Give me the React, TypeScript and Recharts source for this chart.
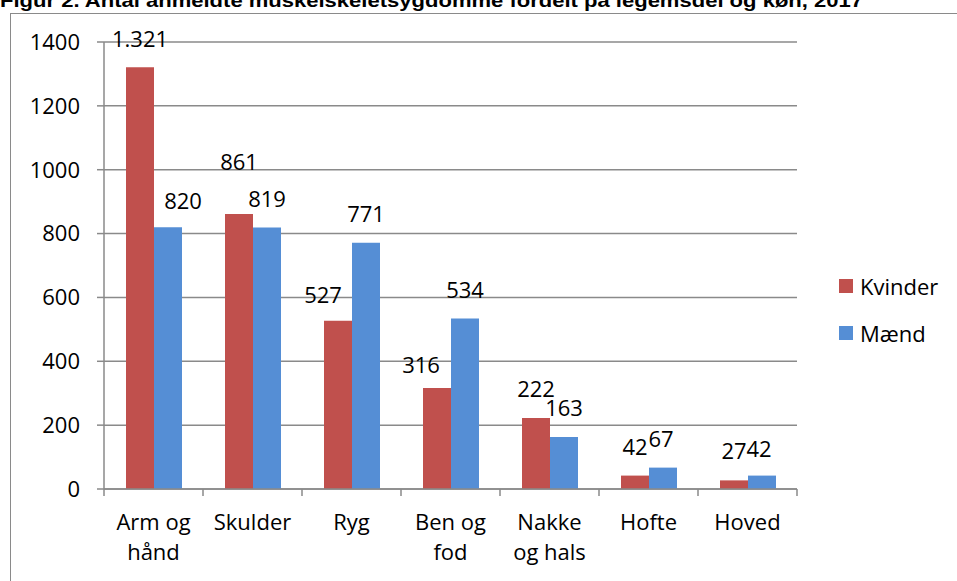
import { BarChart, Bar, XAxis, YAxis, CartesianGrid, LabelList } from "recharts"

const categories = ["Arm og\nhånd", "Skulder", "Ryg", "Ben og\nfod", "Nakke\nog hals", "Hofte", "Hoved"]
const kvinder = [1321, 861, 527, 316, 222, 42, 27]
const maend = [820, 819, 771, 534, 163, 67, 42]
const yTicks = [0, 200, 400, 600, 800, 1000, 1200, 1400]

const title = "Figur 2. Antal anmeldte muskelskeletsygdomme fordelt på legemsdel og køn, 2017"

// a few labels were dragged by hand in the original, [dx, dy]
const kvinderNudge = [[0, 1], [0, -23], [-15, 3], [-16, 6], [0, 0], [0, 0], [0, 0]]
const maendNudge = [[15, 3], [0, 0], [0, 0], [0, 0], [0, 0], [-2, 0], [-3, 2]]

const series = [
  { key: "kvinder", name: "Kvinder", color: "#C0504D", nudge: kvinderNudge },
  { key: "maend", name: "Mænd", color: "#558ED5", nudge: maendNudge },
]

const data = categories.map((c, i) => ({ name: c, kvinder: kvinder[i], maend: maend[i] }))

const FONT = "'Open Sans', sans-serif"
const GRID = "#8a8a8a"

const fmt = (v: number) => String(v).replace(/\B(?=(\d{3})+(?!\d))/g, ".")

function XTick(props: any) {
  const { x, y, payload, index } = props
  const half = payload && payload.offset ? payload.offset : 0
  const lines = String(payload.value).split("\n")
  return (
    <g>
      <line x1={x - half} x2={x - half} y1={y} y2={y + 7} stroke={GRID} strokeWidth={1.5} />
      {index === categories.length - 1 && (
        <line x1={x + half} x2={x + half} y1={y} y2={y + 7} stroke={GRID} strokeWidth={1.5} />
      )}
      <text x={x} y={y + 41} textAnchor="middle" fontFamily={FONT} fontSize={22} fill="#000">
        {lines.map((l, i) => (
          <tspan key={i} x={x} dy={i === 0 ? 0 : 30}>
            {l}
          </tspan>
        ))}
      </text>
    </g>
  )
}

function makeLabel(nudge: number[][]) {
  return (props: any) => {
    const { x, y, width, value, index } = props
    const [dx, dy] = nudge[index] || [0, 0]
    return (
      <text
        x={x + width / 2 + dx}
        y={y - 21 + dy}
        textAnchor="middle"
        fontFamily={FONT}
        fontSize={22}
        fill="#000"
      >
        {fmt(value)}
      </text>
    )
  }
}

export default function App() {
  return (
    <div style={{ position: "fixed", inset: 0, overflow: "hidden", background: "#fff" }}>
      <svg width={957} height={14} style={{ position: "absolute", left: 0, top: 0 }}>
        <text
          x={0}
          y={7}
          fontFamily="'Liberation Sans', Arial, sans-serif"
          fontWeight="bold"
          fontSize={18}
          textLength={863}
          lengthAdjust="spacingAndGlyphs"
          fill="#000"
        >
          {title}
        </text>
      </svg>
      <div
        style={{
          position: "absolute",
          left: 10,
          top: 13,
          width: 1000,
          height: 1000,
          border: "1.5px solid #8a8a8a",
        }}
      />
      <div style={{ position: "absolute", left: 0, top: 0 }}>
        <BarChart
          width={957}
          height={581}
          data={data}
          margin={{ top: 42, right: 160, bottom: 32, left: 0 }}
          barGap={0}
          barSize={28}
        >
          <CartesianGrid vertical={false} stroke={GRID} strokeWidth={1.5} />
          <XAxis
            dataKey="name"
            height={60}
            interval={0}
            tickSize={0}
            tickMargin={0}
            tickLine={false}
            axisLine={{ stroke: GRID, strokeWidth: 1.5 }}
            tick={<XTick />}
          />
          <YAxis
            width={104}
            domain={[0, 1400]}
            ticks={yTicks}
            tickSize={7}
            tickMargin={17}
            axisLine={{ stroke: GRID, strokeWidth: 1.5 }}
            tickLine={{ stroke: GRID, strokeWidth: 1.5 }}
            tick={{ fontFamily: FONT, fontSize: 22, fill: "#000" }}
          />
          {series.map((s) => (
            <Bar key={s.key} dataKey={s.key} name={s.name} fill={s.color} isAnimationActive={false}>
              <LabelList dataKey={s.key} content={makeLabel(s.nudge)} />
            </Bar>
          ))}
        </BarChart>
      </div>
      <div style={{ position: "absolute", left: 839, top: 262, fontFamily: FONT, fontSize: 22 }}>
        {series.map((s) => (
          <div key={s.key} style={{ display: "flex", alignItems: "center", height: 47.5 }}>
            <span style={{ width: 14, height: 14, background: s.color, marginRight: 7 }} />
            <span style={{ lineHeight: "30px" }}>{s.name}</span>
          </div>
        ))}
      </div>
    </div>
  )
}
